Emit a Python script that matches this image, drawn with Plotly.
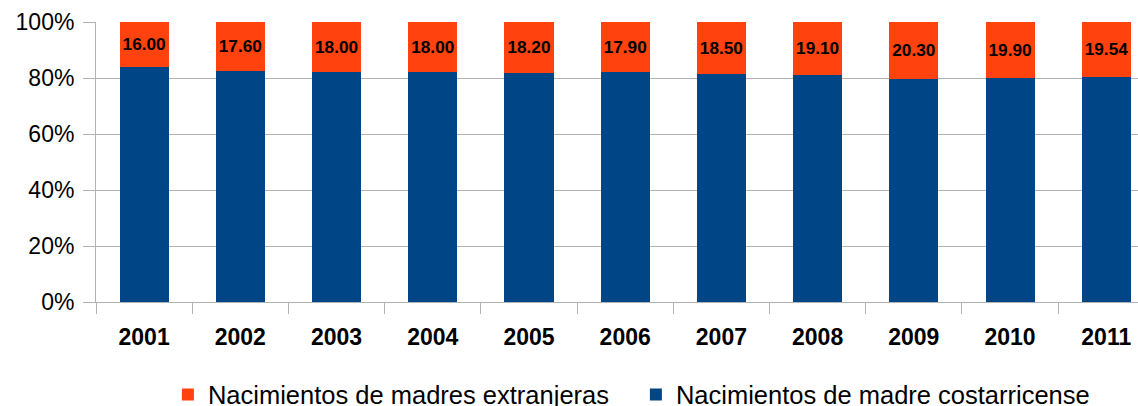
import plotly.graph_objects as go

years = ["2001", "2002", "2003", "2004", "2005", "2006", "2007", "2008", "2009", "2010", "2011"]
extranjeras = [16.00, 17.60, 18.00, 18.00, 18.20, 17.90, 18.50, 19.10, 20.30, 19.90, 19.54]
costarricense = [round(100 - v, 2) for v in extranjeras]
labels = ["%.2f" % v for v in extranjeras]
ytick_vals = [0, 20, 40, 60, 80, 100]
ytick_text = ["0%", "20%", "40%", "60%", "80%", "100%"]

ORANGE = "#ff420e"
BLUE = "#004586"
FONT = "Liberation Sans, Arial, sans-serif"

fig = go.Figure()
fig.add_trace(go.Bar(
    x=years, y=costarricense, name="Nacimientos de madre costarricense",
    marker=dict(color=BLUE, line=dict(width=0)), hoverinfo="skip",
    legendrank=2,
))
fig.add_trace(go.Bar(
    x=years, y=extranjeras, name="Nacimientos de madres extranjeras",
    marker=dict(color=ORANGE, line=dict(width=0)),
    text=labels, textposition="inside", insidetextanchor="middle",
    textangle=0,
    textfont=dict(family=FONT, size=18, color="black", weight="bold"),
    legendrank=1,
))

fig.update_layout(
    barmode="stack",
    bargap=0.49,
    width=1138, height=406,
    margin=dict(l=96, r=0, t=22, b=104, autoexpand=False),
    plot_bgcolor="white", paper_bgcolor="white",
    font=dict(family=FONT, color="black"),
    legend=dict(
        orientation="h", x=0.069, xanchor="left", y=-0.248, yanchor="top",
        font=dict(family=FONT, size=25.5, color="black"),
        traceorder="normal", itemwidth=30,
        entrywidth=423, entrywidthmode="pixels",
    ),
    xaxis=dict(
        type="category", range=[-0.5, 10.33], showgrid=False, tickson="boundaries",
        ticks="outside", ticklen=11, tickcolor="#b3b3b3",
        showline=True, linecolor="#b3b3b3", linewidth=1,
        tickfont=dict(family=FONT, size=23, color="black", weight="bold"),
        ticklabelstandoff=14,
        automargin=False,
    ),
    yaxis=dict(
        range=[0, 100], tickmode="array", tickvals=ytick_vals, ticktext=ytick_text,
        showgrid=True, gridcolor="#b3b3b3", gridwidth=1,
        ticks="outside", ticklen=12, tickcolor="#b3b3b3",
        showline=True, linecolor="#b3b3b3", linewidth=1,
        zeroline=False, automargin=False, ticklabelstandoff=4,
        tickfont=dict(family=FONT, size=23, color="black"),
    ),
)

fig.write_html(
    "out.html",
    config={"displayModeBar": False},
    post_script="document.body.style.margin='0';document.body.style.overflow='hidden';",
)
